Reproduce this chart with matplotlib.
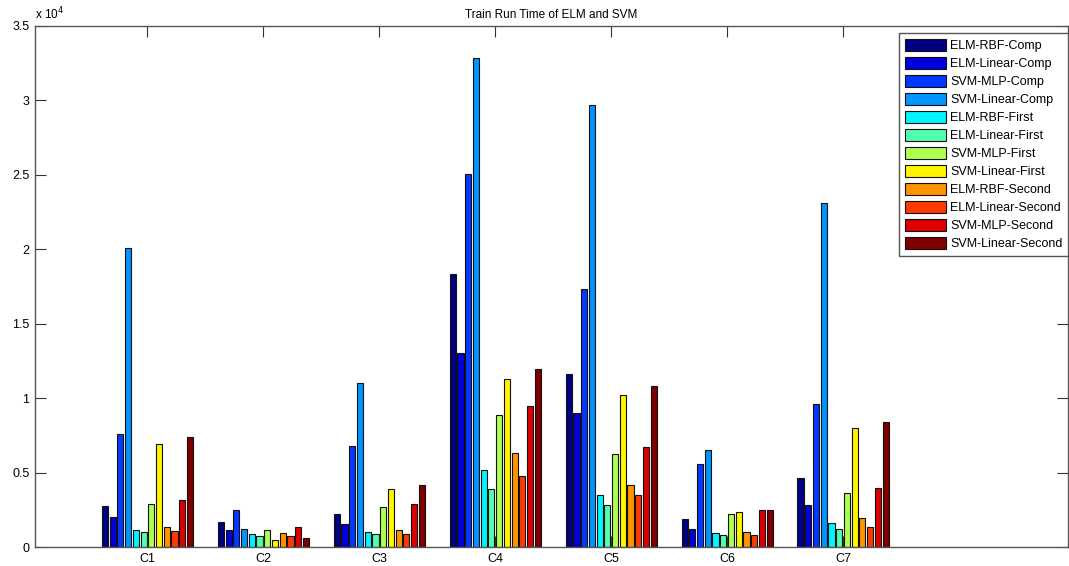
import numpy as np
from matplotlib import pyplot as plt
from matplotlib.colors import LinearSegmentedColormap
from matplotlib.ticker import FuncFormatter

plt.rcParams['font.family'] = ['Liberation Sans', 'DejaVu Sans']

groups = ['C1', 'C2', 'C3', 'C4', 'C5', 'C6', 'C7']
series = ['ELM-RBF-Comp', 'ELM-Linear-Comp', 'SVM-MLP-Comp', 'SVM-Linear-Comp',
          'ELM-RBF-First', 'ELM-Linear-First', 'SVM-MLP-First', 'SVM-Linear-First',
          'ELM-RBF-Second', 'ELM-Linear-Second', 'SVM-MLP-Second', 'SVM-Linear-Second']

# one list per group, in series order
c1 = [2730, 2020, 7570, 20070, 1140, 1000, 2890, 6930, 1360, 1090, 3160, 7360]
c2 = [1680, 1160, 2480, 1230, 890, 750, 1160, 500, 950, 750, 1360, 590]
c3 = [2250, 1570, 6800, 11000, 1000, 860, 2680, 3890, 1140, 890, 2890, 4140]
c4 = [18360, 13000, 25090, 32840, 5200, 3890, 8890, 11270, 6340, 4800, 9500, 11950]
c5 = [11610, 9020, 17340, 29660, 3480, 2800, 6250, 10230, 4140, 3480, 6700, 10820]
c6 = [1910, 1230, 5570, 6520, 950, 820, 2250, 2340, 1000, 820, 2480, 2480]
c7 = [4610, 2820, 9640, 23140, 1610, 1230, 3610, 7980, 1980, 1360, 3950, 8430]

data = np.array([c1, c2, c3, c4, c5, c6, c7])

# MATLAB style jet colormap
matlab_jet = LinearSegmentedColormap('matlab_jet', {
    'red': [(0, 0, 0), (3 / 8, 0, 0), (5 / 8, 1, 1), (7 / 8, 1, 1), (1, 0.5, 0.5)],
    'green': [(0, 0, 0), (1 / 8, 0, 0), (3 / 8, 1, 1), (5 / 8, 1, 1), (7 / 8, 0, 0), (1, 0, 0)],
    'blue': [(0, 0.5, 0.5), (1 / 8, 1, 1), (3 / 8, 1, 1), (5 / 8, 0, 0), (1, 0, 0)],
})

fig = plt.figure(figsize=(10.69, 5.66), dpi=100)
ax = fig.add_axes([35 / 1069, 1 - 547 / 566, (1068 - 35) / 1069, (547 - 26) / 566])

x = np.arange(1, len(groups) + 1)
n = len(series)
pitch = 0.8 / n
colors = matlab_jet(np.linspace(0, 1, n))
for i in range(n):
    ax.bar(x + (i - (n - 1) / 2) * pitch, data[:, i], width=pitch * 0.8,
           color=colors[i], edgecolor='#111111', linewidth=0.8, label=series[i])

ax.set_xlim(0.03, 8.94)
ax.set_ylim(0, 35000)
ax.set_xticks(x)
ax.set_xticklabels(groups)
ax.set_yticks(np.arange(0, 35001, 5000))
ax.yaxis.set_major_formatter(FuncFormatter(lambda v, p: '%g' % (v / 1e4)))
ax.tick_params(direction='in', length=8, width=0.8, top=True, right=True,
               labelsize=9, colors='#333333', labelcolor='black', pad=4)
for s in ax.spines.values():
    s.set_color('#555555')
    s.set_linewidth(1.0)

ax.text(0.0, 1.008, r'x 10$^{4}$', transform=ax.transAxes, fontsize=8.5,
        ha='left', va='bottom')
ax.set_title('Train Run Time of ELM and SVM', fontsize=8.5, pad=6)

leg = ax.legend(loc='upper right', bbox_to_anchor=(1.0, 0.986), fontsize=9,
                handlelength=3.3, handleheight=1.1, handletextpad=0.3,
                labelspacing=0.38, borderpad=0.45, fancybox=False,
                framealpha=1, edgecolor='#555555', borderaxespad=0.0)
leg.get_frame().set_linewidth(1.0)

fig.savefig('out.png', dpi=100)
